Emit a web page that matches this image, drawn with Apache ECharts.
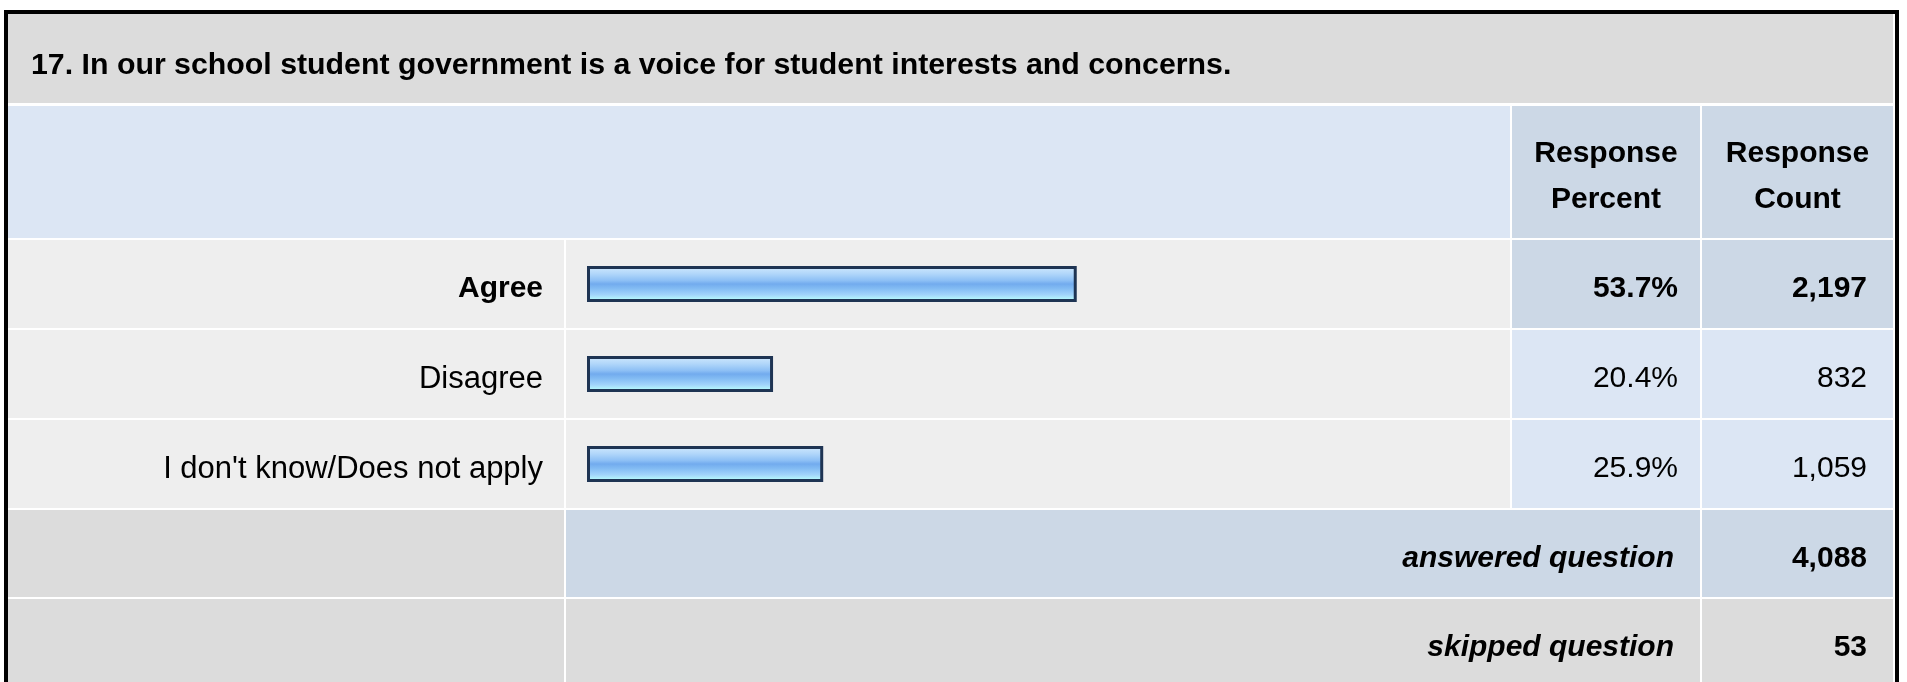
<!DOCTYPE html>
<html>
<head>
<meta charset="utf-8">
<script src="https://cdn.jsdelivr.net/npm/echarts@6.0.0/dist/echarts.min.js"></script>
<style>
  html, body { margin: 0; padding: 0; background: #fff; }
  #chart { width: 1907px; height: 682px; }
</style>
</head>
<body>
<div id="chart"></div>
<script>
// data
const questionTitle = '17. In our school student government is a voice for student interests and concerns.';
const answers = ['Agree', 'Disagree', "I don't know/Does not apply"];
const percents = [53.7, 20.4, 25.9];
const counts = [2197, 832, 1059];
const headerCols = ['Response\nPercent', 'Response\nCount'];
const summaryLabels = ['answered question', 'skipped question'];
const summaryCounts = [4088, 53];

const FONT = '"Liberation Sans", Arial, sans-serif';
const fmtCount = v => v.toLocaleString('en-US');
const topIdx = percents.indexOf(Math.max(...percents));

const C = {
  gray: '#DCDCDC',
  row: '#EEEEEE',
  light: '#DCE6F4',
  dark: '#CCD8E6',
  border: '#000000'
};

// table layout (cell backgrounds)
const rowTop = 240, rowPitch = 90, rowH = 88;
const cols = { lbl: [8, 556], bar: [566, 944], pct: [1512, 188], cnt: [1702, 191] };

function rect(x, y, w, h, fill) {
  return { type: 'rect', z: -10, silent: true, shape: { x, y, width: w, height: h }, style: { fill } };
}
function text(t, x, y, opts) {
  return { type: 'text', z: 10, silent: true, style: Object.assign({ text: t, x, y, fill: '#000', fontFamily: FONT, fontSize: 30, verticalAlign: 'middle' }, opts) };
}

const graphics = [
  rect(4, 10, 1895, 700, C.border),
  rect(8, 14, 1887, 700, '#FFFFFF'),
  rect(8, 14, 1885, 89, C.gray),
  rect(8, 106, 1502, 132, C.light),
  rect(cols.pct[0], 106, cols.pct[1], 132, C.dark),
  rect(cols.cnt[0], 106, cols.cnt[1], 132, C.dark),
  text(questionTitle, 31, 66, { fontWeight: 'bold', fontSize: 30.3 })
];
headerCols.forEach((h, i) => {
  const c = i === 0 ? cols.pct : cols.cnt;
  graphics.push(text(h, c[0] + c[1] / 2, 177, { fontWeight: 'bold', align: 'center', lineHeight: 46 }));
});
answers.forEach((a, i) => {
  const y = rowTop + i * rowPitch;
  const f = i === topIdx ? C.dark : C.light;
  graphics.push(rect(cols.lbl[0], y, cols.lbl[1], rowH, C.row));
  graphics.push(rect(cols.bar[0], y, cols.bar[1], rowH, C.row));
  graphics.push(rect(cols.pct[0], y, cols.pct[1], rowH, f));
  graphics.push(rect(cols.cnt[0], y, cols.cnt[1], rowH, f));
});
summaryLabels.forEach((s, i) => {
  const y = rowTop + answers.length * rowPitch + i * 89;
  const h = i === 0 ? 87 : 100;
  const f = i === 0 ? C.dark : C.gray;
  graphics.push(rect(cols.lbl[0], y, cols.lbl[1], h, C.gray));
  graphics.push(rect(cols.bar[0], y, cols.bar[1] + 2 + cols.pct[1], h, f));
  graphics.push(rect(cols.cnt[0], y, cols.cnt[1], h, f));
  const cy = y + 49;
  graphics.push(text(s, 1674, cy, { fontWeight: 'bold', fontStyle: 'italic', align: 'right' }));
  graphics.push(text(fmtCount(summaryCounts[i]), 1867, cy, { fontWeight: 'bold', align: 'right' }));
});

const chart = echarts.init(document.getElementById('chart'), null, { renderer: 'canvas' });

const labelRich = {
  b: { fontFamily: FONT, fontSize: 30, fontWeight: 'bold', color: '#000', padding: [10, 0, 0, 0] },
  n: { fontFamily: FONT, fontSize: 31, color: '#000', padding: [10, 0, 0, 0] }
};
const numRich = {
  b: { fontFamily: FONT, fontSize: 30, fontWeight: 'bold', color: '#000', padding: [10, 0, 0, 0] },
  n: { fontFamily: FONT, fontSize: 30, color: '#000', padding: [10, 0, 0, 0] }
};
const pick = (v, i) => (i === topIdx ? '{b|' + v + '}' : '{n|' + v + '}');

const barGradient = new echarts.graphic.LinearGradient(0, 0, 0, 1, [
  { offset: 0, color: '#D2EAFD' },
  { offset: 0.22, color: '#B0D6FA' },
  { offset: 0.4, color: '#8EC0F5' },
  { offset: 0.5, color: '#72ABEE' },
  { offset: 0.62, color: '#82BBF3' },
  { offset: 0.8, color: '#A2D4FA' },
  { offset: 0.92, color: '#B4F6FC' },
  { offset: 1, color: '#B8FCFC' }
]);

const gridLeft = 587, gridWidth = 912;
chart.setOption({
  animation: false,
  backgroundColor: '#fff',
  graphic: graphics,
  grid: { left: gridLeft, top: 239, width: gridWidth, height: 270 },
  xAxis: { type: 'value', min: 0, max: 100, show: false },
  yAxis: [
    {
      type: 'category', data: answers, inverse: true, position: 'left',
      axisLine: { show: false }, axisTick: { show: false }, splitLine: { show: false },
      axisLabel: { interval: 0, margin: gridLeft - 543, formatter: pick, rich: labelRich }
    },
    {
      type: 'category', data: percents.map(v => v.toFixed(1) + '%'), inverse: true, position: 'right',
      axisLine: { show: false }, axisTick: { show: false }, splitLine: { show: false },
      axisLabel: { interval: 0, margin: 1678 - gridLeft - gridWidth, align: 'right', formatter: pick, rich: numRich }
    },
    {
      type: 'category', data: counts.map(fmtCount), inverse: true, position: 'right',
      axisLine: { show: false }, axisTick: { show: false }, splitLine: { show: false },
      axisLabel: { interval: 0, margin: 1867 - gridLeft - gridWidth, align: 'right', formatter: pick, rich: numRich }
    }
  ],
  series: [{
    type: 'bar',
    data: percents,
    barWidth: 36,
    itemStyle: { color: barGradient, borderColor: '#1E3453', borderWidth: 3 }
  }]
});
</script>
</body>
</html>
